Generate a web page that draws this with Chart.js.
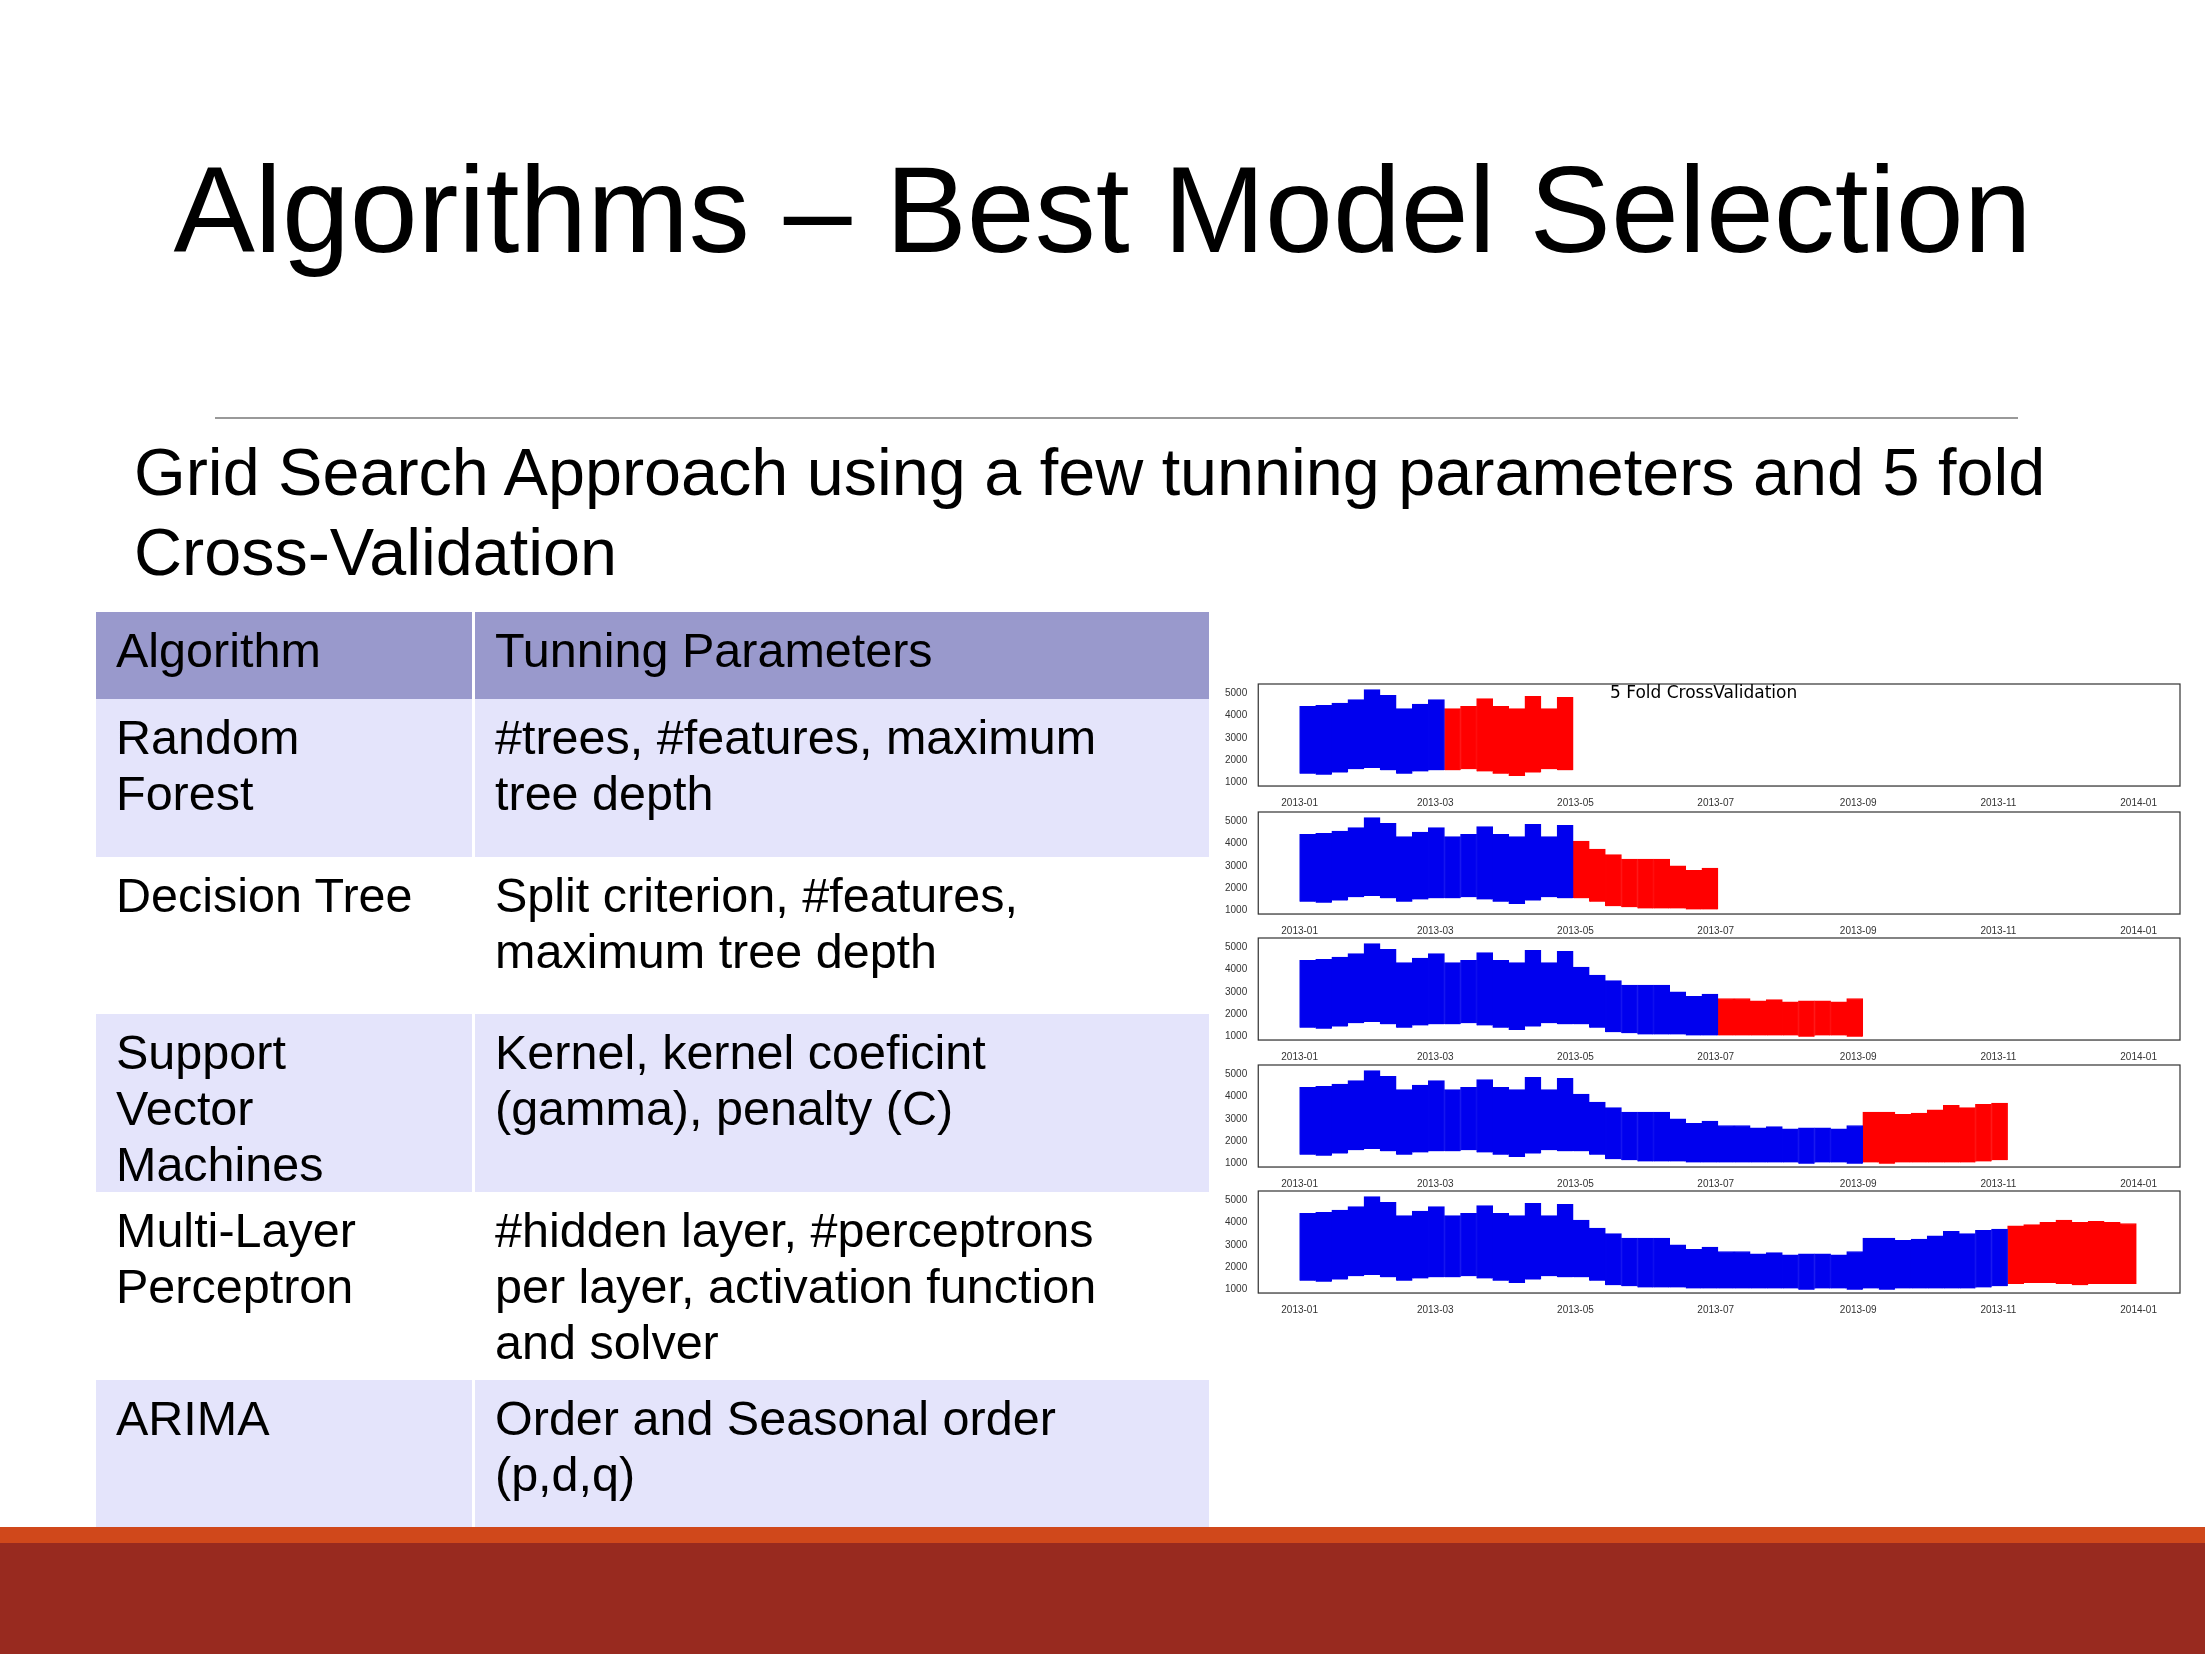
<!DOCTYPE html>
<html>
<head>
<meta charset="utf-8">
<script src="https://cdn.jsdelivr.net/npm/chart.js@4"></script>
<style>
  body { margin: 0; width: 2205px; height: 1654px; background: #fff; position: relative; overflow: hidden; font-family: "Liberation Sans", Arial, sans-serif; }
  #title { position: absolute; top: 140px; left: 0; width: 2205px; text-align: center; font-size: 122px; color: #000; }
  #rule { position: absolute; top: 417px; left: 215px; width: 1803px; height: 2px; background: #999; }
  #sub { position: absolute; top: 432px; left: 134px; font-size: 66.5px; line-height: 80px; color: #000; }
  table { position: absolute; left: 96px; top: 612px; width: 1116px; border-collapse: collapse; font-size: 48.5px; }
  td { vertical-align: top; padding: 10px 44px 0 20px; line-height: 56px; border-right: 3px solid #fff; }
  td:first-child { width: 312px; }
  tr.h td { background: #9999cc; height: 77px; }
  tr.a td { background: #e4e4fb; }
  tr.b td { background: #fff; }
  #stripe { position: absolute; left: 0; top: 1527px; width: 2205px; height: 16px; background: #d0481b; }
  #bar { position: absolute; left: 0; top: 1543px; width: 2205px; height: 111px; background: #982a1f; }
  .pane { position: absolute; left: 1222px; width: 970px; height: 140px; }
  #cvTitle { position: absolute; left: 1610px; top: 682px; font-family: "DejaVu Sans"; font-size: 17px; color: #000; }
</style>
</head>
<body>
<div id="title">Algorithms – Best Model Selection</div>
<div id="rule"></div>
<div id="sub">Grid Search Approach using a few tunning parameters and 5 fold<br>Cross-Validation</div>
<table>
  <tr class="h"><td>Algorithm</td><td>Tunning Parameters</td></tr>
  <tr class="a" style="height:158px"><td>Random<br>Forest</td><td>#trees, #features, maximum<br>tree depth</td></tr>
  <tr class="b" style="height:157px"><td>Decision Tree</td><td>Split criterion, #features,<br>maximum tree depth</td></tr>
  <tr class="a" style="height:158px"><td>Support Vector<br>Machines</td><td>Kernel, kernel coeficint<br>(gamma), penalty (C)</td></tr>
  <tr class="b" style="height:188px"><td>Multi-Layer<br>Perceptron</td><td>#hidden layer, #perceptrons<br>per layer, activation function<br>and solver</td></tr>
  <tr class="a" style="height:158px"><td>ARIMA</td><td>Order and Seasonal order<br>(p,d,q)</td></tr>
</table>
<div id="stripe"></div>
<div id="bar"></div>
<div id="panes"></div>
<div id="cvTitle">5 Fold CrossValidation</div>
<script>
// weekly peaks and troughs (52 weeks of 2013)
const weekHigh = [4400, 4450, 4550, 4700, 5150, 4900, 4300, 4500, 4700, 4300, 4400, 4750, 4400, 4300, 4850, 4300,
  4800, 4100, 3750, 3500, 3300, 3300, 3300, 3000, 2800, 2900, 2700, 2700, 2600, 2650, 2550, 2600, 2600, 2550,
  2700, 3300, 3300, 3200, 3250, 3400, 3600, 3500, 3650, 3700, 3850, 3900, 4000, 4100, 4000, 4050, 4000, 3950];
const weekLow = [1400, 1350, 1450, 1600, 1650, 1550, 1400, 1500, 1550, 1550, 1600, 1500, 1400, 1300, 1450, 1600,
  1550, 1550, 1400, 1200, 1150, 1100, 1100, 1100, 1050, 1050, 1050, 1050, 1050, 1050, 1050, 1000, 1050, 1050,
  1000, 1050, 1000, 1050, 1050, 1050, 1050, 1050, 1100, 1150, 1250, 1300, 1300, 1250, 1200, 1250, 1250, 1250];
const foldBounds = [0, 9, 17, 26, 35, 44, 52];   // week indices where folds split
const tickDays = [0, 59, 120, 181, 243, 304, 365];
const tickLabels = ['2013-01', '2013-03', '2013-05', '2013-07', '2013-09', '2013-11', '2014-01'];
const yTicks = [1000, 2000, 3000, 4000, 5000];

const boxPlugin = {
  id: 'box',
  afterDraw(chart) {
    const a = chart.chartArea, c = chart.ctx;
    c.save(); c.strokeStyle = '#333'; c.lineWidth = 1.2;
    c.strokeRect(a.left, a.top, a.right - a.left, a.bottom - a.top);
    c.restore();
  }
};

function points(from, to) {
  const out = [];
  for (let w = from; w < to; w++) out.push({ x: w * 7 + 3.5, y: [weekLow[w], weekHigh[w]] });
  return out;
}

const tops = [672, 800, 926, 1053, 1179];
for (let k = 1; k <= 5; k++) {
  const d = document.createElement('div');
  d.className = 'pane';
  d.style.top = tops[k - 1] + 'px';
  d.innerHTML = '<canvas></canvas>';
  document.getElementById('panes').appendChild(d);
  new Chart(d.querySelector('canvas'), {
    type: 'bar',
    data: {
      datasets: [
        { data: points(0, foldBounds[k]), backgroundColor: '#0000ee', borderColor: '#0000ee', borderWidth: 1 },
        { data: points(foldBounds[k], foldBounds[k + 1]), backgroundColor: '#ff0000', borderColor: '#ff0000', borderWidth: 1 }
      ]
    },
    options: {
      responsive: true, maintainAspectRatio: false, animation: false,
      grouped: false, barPercentage: 1, categoryPercentage: 1,
      layout: { padding: { top: 12, right: 12 } },
      plugins: { legend: { display: false }, tooltip: { enabled: false } },
      scales: {
        x: {
          type: 'linear', min: -18, max: 383, offset: false, grid: { display: false },
          afterBuildTicks: s => { s.ticks = tickDays.map(v => ({ value: v })); },
          ticks: { callback: (v) => tickLabels[tickDays.indexOf(v)], font: { size: 10 }, color: '#333', maxRotation: 0, autoSkip: false }
        },
        y: {
          min: 850, max: 5400, grid: { display: false },
          afterBuildTicks: s => { s.ticks = yTicks.map(v => ({ value: v })); },
          ticks: { callback: v => String(v), font: { size: 10 }, color: '#333' }
        }
      }
    },
    plugins: [boxPlugin]
  });
}
</script>
</body>
</html>
